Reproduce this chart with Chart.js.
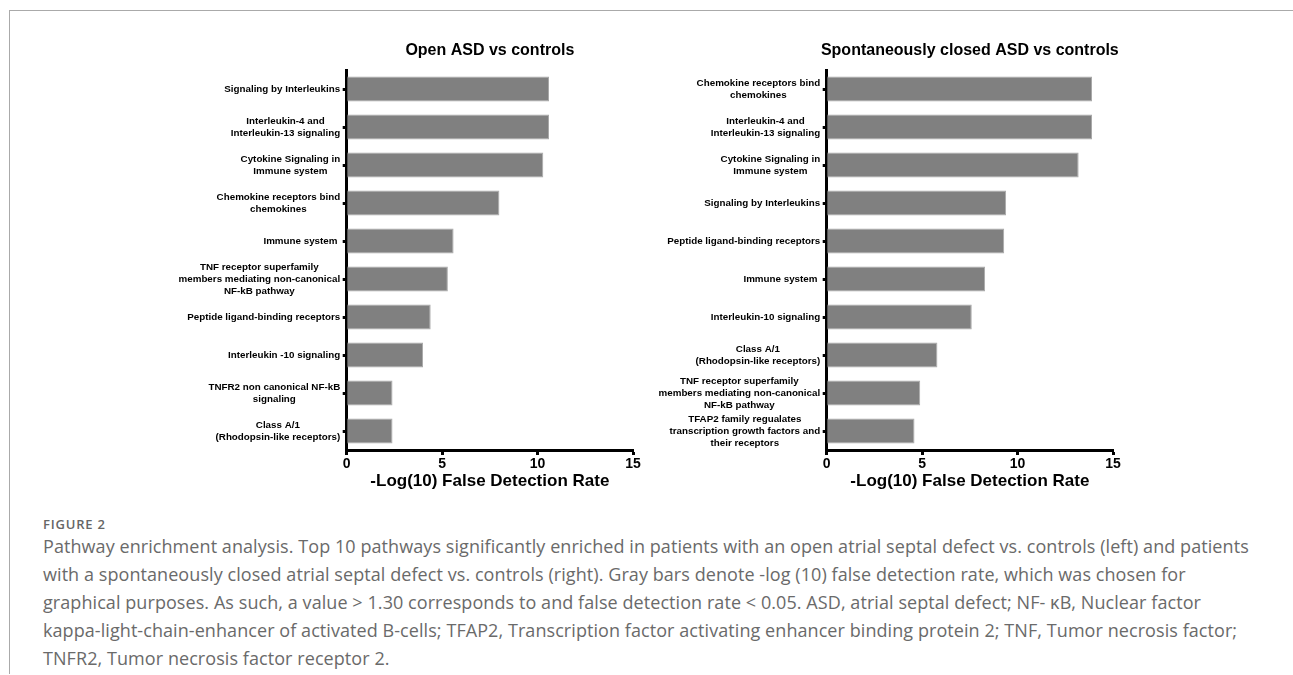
<!DOCTYPE html>
<html><head><meta charset="utf-8">
<script src="https://cdn.jsdelivr.net/npm/chart.js@4.4.1/dist/chart.umd.min.js"></script>
<style>
html,body{margin:0;padding:0;background:#fff;}
body{width:1293px;height:675px;position:relative;overflow:hidden;}
#frame{position:absolute;left:9px;top:10px;width:1300px;height:663px;border-top:1px solid #aaa;border-left:1px solid #aaa;}
.cw{position:absolute;top:0;width:500px;height:510px;}
#c1w{left:150px}
#c2w{left:630px}
#figlabel{position:absolute;left:43px;top:516px;font:600 13px/16px 'Open Sans',sans-serif;color:#666;letter-spacing:0.8px}
#caption{position:absolute;left:43px;top:532px;font:400 18px/28px 'Open Sans',sans-serif;color:#6a6a6a;white-space:nowrap;letter-spacing:0.07px}
</style></head>
<body>
<div id="frame"></div>
<div class="cw" id="c1w"><canvas id="c1" width="500" height="510"></canvas></div>
<div class="cw" id="c2w"><canvas id="c2" width="500" height="510"></canvas></div>
<div id="figlabel">FIGURE 2</div>
<div id="caption">Pathway enrichment analysis. Top 10 pathways significantly enriched in patients with an open atrial septal defect vs. controls (left) and patients<br>with a spontaneously closed atrial septal defect vs. controls (right). Gray bars denote -log (10) false detection rate, which was chosen for<br>graphical purposes. As such, a value &gt; 1.30 corresponds to and false detection rate &lt; 0.05. ASD, atrial septal defect; NF- κB, Nuclear factor<br>kappa-light-chain-enhancer of activated B-cells; TFAP2, Transcription factor activating enhancer binding protein 2; TNF, Tumor necrosis factor;<br>TNFR2, Tumor necrosis factor receptor 2.</div>
<script>
const leftTitle = "Open ASD vs controls";
const leftCategories = [
  ["Signaling by Interleukins"],
  ["Interleukin-4 and", "Interleukin-13 signaling"],
  ["Cytokine Signaling in", "Immune system"],
  ["Chemokine receptors bind", "chemokines"],
  ["Immune system "],
  ["TNF receptor superfamily", "members mediating non-canonical", "NF-kB pathway"],
  ["Peptide ligand-binding receptors"],
  ["Interleukin -10 signaling"],
  ["TNFR2 non canonical NF-kB", "signaling"],
  ["Class A/1", "(Rhodopsin-like receptors)"]
];
const leftValues = [10.6, 10.6, 10.3, 8.0, 5.6, 5.3, 4.4, 4.0, 2.4, 2.4];

const rightTitle = "Spontaneously closed ASD vs controls";
const rightCategories = [
  ["Chemokine receptors bind", "chemokines"],
  ["Interleukin-4 and", "Interleukin-13 signaling"],
  ["Cytokine Signaling in", "Immune system"],
  ["Signaling by Interleukins"],
  ["Peptide ligand-binding receptors"],
  ["Immune system "],
  ["Interleukin-10 signaling"],
  ["Class A/1", "(Rhodopsin-like receptors)"],
  ["TNF receptor superfamily", "members mediating non-canonical", "NF-kB pathway"],
  ["TFAP2 family regualates", "transcription growth factors and", "their receptors"]
];
const rightValues = [13.9, 13.9, 13.2, 9.4, 9.3, 8.3, 7.6, 5.8, 4.9, 4.6];

const xTickValues = [0, 5, 10, 15];
const xAxisTitle = "-Log(10) False Detection Rate";

const FONT = "'Liberation Sans', Arial, Helvetica, sans-serif";
Chart.defaults.font.family = FONT;

const yLabelPlugin = {
  id: 'yLabels',
  afterDraw(chart) {
    const ctx = chart.ctx, ys = chart.scales.y, ca = chart.chartArea;
    ctx.save();
    ctx.font = "bold 9.8px " + FONT;
    ctx.fillStyle = '#000';
    ctx.textAlign = 'center';
    ctx.textBaseline = 'middle';
    const rightEdge = ca.left - 6.5;
    const lh = 12.2;
    chart.data.labels.forEach((lab, i) => {
      const lines = Array.isArray(lab) ? lab : [lab];
      const w = Math.max(...lines.map(l => ctx.measureText(l).width));
      const cx = rightEdge - w / 2;
      const y0 = ys.getPixelForTick(i) - (lines.length - 1) * lh / 2;
      lines.forEach((l, j) => ctx.fillText(l, cx, y0 + j * lh));
    });
    ctx.restore();
  }
};

const panelTitlePlugin = {
  id: 'panelTitle',
  afterDraw(chart, args, opts) {
    const ctx = chart.ctx, ca = chart.chartArea;
    ctx.save();
    ctx.font = "bold 16px " + FONT;
    ctx.fillStyle = '#000';
    ctx.textAlign = 'center';
    ctx.textBaseline = 'middle';
    ctx.fillText(opts.text, (ca.left + ca.right) / 2, 50.5);
    ctx.restore();
  }
};

function makeChart(id, title, labels, values) {
  return new Chart(document.getElementById(id), {
    type: 'bar',
    data: {
      labels: labels,
      datasets: [{
        data: values,
        backgroundColor: '#808080',
        borderColor: '#a9a9a9',
        borderWidth: 1,
        barPercentage: 0.66,
        categoryPercentage: 1
      }]
    },
    options: {
      indexAxis: 'y',
      responsive: false,
      animation: false,
      layout: { padding: { top: 70, right: 17, left: 0, bottom: 0 } },
      plugins: {
        legend: { display: false },
        tooltip: { enabled: false },
        panelTitle: { text: title }
      },
      scales: {
        x: {
          type: 'linear', min: 0, max: 15, z: 1,
          afterBuildTicks: s => { s.ticks = xTickValues.map(v => ({ value: v })); },
          afterFit: s => { s.height = 60; },
          border: { display: true, color: '#000', width: 3 },
          grid: { drawOnChartArea: false, drawTicks: true, tickLength: 5, tickWidth: 3, tickColor: '#000' },
          ticks: { color: '#000', font: { size: 14, weight: 'bold', lineHeight: 1 }, padding: 2, maxRotation: 0 },
          title: { display: true, text: xAxisTitle, color: '#000', font: { size: 17, weight: 'bold', lineHeight: 1 }, padding: { top: 0, bottom: 20.5 } }
        },
        y: {
          type: 'category', offset: true, z: 1,
          afterFit: s => { s.width = 196.7; },
          border: { display: true, color: '#000', width: 3 },
          grid: { offset: false, drawOnChartArea: false, drawTicks: true, tickLength: 4, tickWidth: 3, tickColor: '#000' },
          ticks: { color: 'rgba(0,0,0,0)', font: { size: 10, weight: 'bold' }, autoSkip: false, padding: 2 }
        }
      }
    },
    plugins: [yLabelPlugin, panelTitlePlugin]
  });
}

makeChart('c1', leftTitle, leftCategories, leftValues);
makeChart('c2', rightTitle, rightCategories, rightValues);
</script>
</body></html>
